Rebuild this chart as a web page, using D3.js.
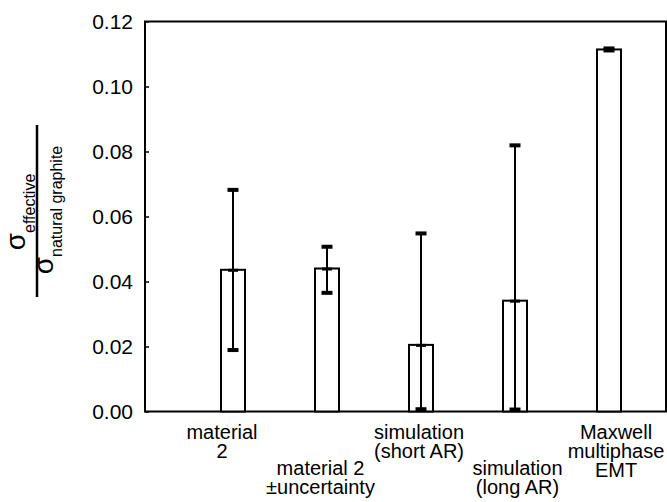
<!DOCTYPE html>
<html>
<head>
<meta charset="utf-8">
<script src="https://cdn.jsdelivr.net/npm/d3@7"></script>
<style>
  html, body { margin: 0; padding: 0; background: #fff; }
  svg { display: block; font-family: "Liberation Sans", Arial, Helvetica, sans-serif; }
</style>
</head>
<body>
<svg id="chart" width="667" height="502"></svg>
<script>
// ---- data ----
const categories = [
  ["material", "2"],
  ["material 2", "\u00b1uncertainty"],
  ["simulation", "(short AR)"],
  ["simulation", "(long AR)"],
  ["Maxwell", "multiphase", "EMT"]
];
const values  = [0.0436, 0.0440, 0.0205, 0.0341, 0.1114];
const errLow  = [0.0186, 0.0362, 0.0004, 0.0003, 0.1114];
const errHigh = [0.0685, 0.0510, 0.0551, 0.0822, 0.1114];
const yTicks  = [0, 0.02, 0.04, 0.06, 0.08, 0.10, 0.12];

// ---- layout ----
(function () {
const svg = d3.select("#chart");
const pL = 145, pR = 666, pT = 21.5, pB = 411.5;
const ids = categories.map((d, i) => i);

const y = d3.scaleLinear().domain([0, 0.12]).range([pB, pT]);
const x = d3.scalePoint().domain(ids).range([233, 609]);
const xLab = d3.scalePoint().domain(ids).range([222, 616]);
const barW = 24;

// frame
svg.append("rect")
  .attr("x", pL).attr("y", pT)
  .attr("width", pR - pL).attr("height", pB - pT)
  .attr("fill", "none").attr("stroke", "#000").attr("stroke-width", 2);

// y axis
const yAxis = d3.axisLeft(y).tickValues(yTicks).tickFormat(d3.format(".2f"))
  .tickSize(-4).tickPadding(12);
const ga = svg.append("g").attr("transform", `translate(${pL},0)`).call(yAxis);
ga.select(".domain").remove();
ga.selectAll(".tick line").attr("stroke", "#000").attr("stroke-width", 1.5);
ga.selectAll(".tick text").attr("fill", "#000")
  .style("font-size", "21px").style("font-family", "Liberation Sans, Arial, sans-serif");

// bars
svg.append("g").selectAll("rect").data(ids).join("rect")
  .attr("x", i => x(i) - barW / 2)
  .attr("y", i => y(values[i]))
  .attr("width", barW)
  .attr("height", i => y(0) - y(values[i]))
  .attr("fill", "#fff").attr("stroke", "#000").attr("stroke-width", 2);

// error bars
const eg = svg.append("g");
ids.forEach(i => {
  const cx = x(i);
  eg.append("line").attr("x1", cx).attr("x2", cx)
    .attr("y1", y(errLow[i])).attr("y2", y(errHigh[i]))
    .attr("stroke", "#000").attr("stroke-width", 2);
  eg.append("line").attr("x1", cx - 5.5).attr("x2", cx + 5.5)
    .attr("y1", y(errLow[i]) - 1).attr("y2", y(errLow[i]) - 1)
    .attr("stroke", "#000").attr("stroke-width", 4);
  eg.append("line").attr("x1", cx - 5.5).attr("x2", cx + 5.5)
    .attr("y1", y(errHigh[i]) + 1).attr("y2", y(errHigh[i]) + 1)
    .attr("stroke", "#000").attr("stroke-width", 4);
  eg.append("line").attr("x1", cx - 5).attr("x2", cx + 5)
    .attr("y1", y(values[i]) + 0.5).attr("y2", y(values[i]) + 0.5)
    .attr("stroke", "#000").attr("stroke-width", 3);
});

// category labels (staggered rows)
const lg = svg.append("g");
ids.forEach(i => {
  const base = (i % 2 === 0) ? 439 : 475;
  const t = lg.append("text").attr("text-anchor", "middle")
    .style("font-size", "20px").attr("fill", "#000");
  categories[i].forEach((line, k) => {
    t.append("tspan").attr("x", xLab(i)).attr("y", base + k * 18.8).text(line);
  });
});

// y title (fraction)
const tg = svg.append("g").attr("transform", "rotate(-90)");
const num = tg.append("text").attr("text-anchor", "middle").attr("x", -212).attr("y", 25).attr("fill", "#000");
num.append("tspan").style("font-size", "28px").text("\u03c3");
num.append("tspan").style("font-size", "16px").attr("dy", 10).text("effective");
const den = tg.append("text").attr("text-anchor", "middle").attr("x", -210).attr("y", 53).attr("fill", "#000");
den.append("tspan").style("font-size", "28px").text("\u03c3");
den.append("tspan").style("font-size", "16px").attr("dy", 9).text("natural graphite");
svg.append("line").attr("x1", 37).attr("x2", 37).attr("y1", 125).attr("y2", 297)
  .attr("stroke", "#000").attr("stroke-width", 2.5);
})();
</script>
</body>
</html>
